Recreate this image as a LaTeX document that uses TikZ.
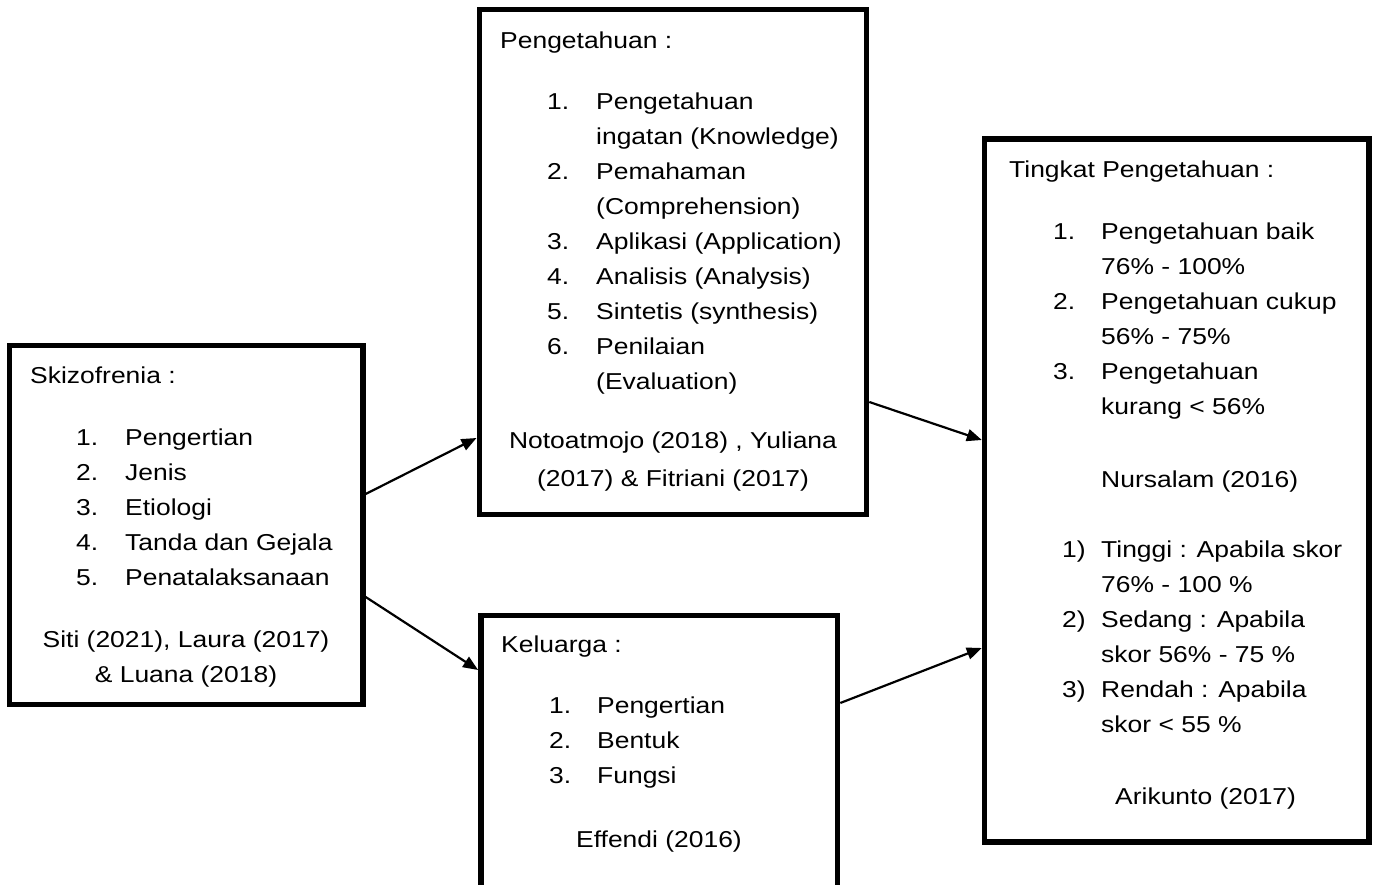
\documentclass[tikz,border=0pt]{standalone}
\usepackage{fontspec}
\setmainfont{Liberation Sans}[FakeStretch=1.15]
\usetikzlibrary{arrows.meta}

\begin{document}
\begin{tikzpicture}[x=1pt,y=-1pt,
    kotak/.style={rectangle,draw,line width=5.5pt,inner sep=0pt},
    teks/.style={inner sep=0pt,font=\fontsize{23}{35}\selectfont},
    panah/.style={-{Triangle[length=15pt,width=12pt]},line width=2.2pt}]
    \useasboundingbox (0,0) rectangle (1379,885);
    \clip (0,0) rectangle (1379,885);

    % kotak-kotak
    \node[kotak, minimum width=353.5pt, minimum height=358.8pt] (skz) at (186.2,525.1) {};
    \node[kotak, minimum width=387.3pt, minimum height=505pt] (ptn) at (672.9,262) {};
    \node[kotak, minimum width=356.7pt, minimum height=289.5pt] (klg) at (659.2,760.3) {};
    \node[kotak, minimum width=384.5pt, minimum height=703pt] (tkt) at (1176.8,490.5) {};

    % Skizofrenia
    \node[teks, anchor=base west] (skz-judul) at (30,383) {Skizofrenia :};
    \node[teks, anchor=base west] (skz-isi) at (76,445) {\begin{tabular}[t]{@{}p{49pt}@{}l@{}}
        1. & Pengertian\\
        2. & Jenis\\
        3. & Etiologi\\
        4. & Tanda dan Gejala\\
        5. & Penatalaksanaan
    \end{tabular}};
    \node[teks, anchor=base] (skz-sumber) at (186,647) {\begin{tabular}[t]{@{}c@{}}
        Siti (2021), Laura (2017)\\
        \& Luana (2018)
    \end{tabular}};

    % Pengetahuan
    \node[teks, anchor=base west] (ptn-judul) at (500,48.5) {Pengetahuan :};
    \node[teks, anchor=base west, font=\fontsize{23}{35}\selectfont] (ptn-isi) at (547,109.5) {\begin{tabular}[t]{@{}p{49pt}@{}l@{}}
        1. & Pengetahuan\\
           & ingatan (Knowledge)\\
        2. & Pemahaman\\
           & (Comprehension)\\
        3. & Aplikasi (Application)\\
        4. & Analisis (Analysis)\\
        5. & Sintetis (synthesis)\\
        6. & Penilaian\\
           & (Evaluation)
    \end{tabular}};
    \node[teks, anchor=base, font=\fontsize{23}{38}\selectfont] (ptn-sumber) at (673,448.5) {\begin{tabular}[t]{@{}c@{}}
        Notoatmojo (2018) , Yuliana\\
        (2017) \& Fitriani (2017)
    \end{tabular}};

    % Keluarga
    \node[teks, anchor=base west] (klg-judul) at (501,652) {Keluarga :};
    \node[teks, anchor=base west] (klg-isi) at (549,713) {\begin{tabular}[t]{@{}p{48pt}@{}l@{}}
        1. & Pengertian\\
        2. & Bentuk\\
        3. & Fungsi
    \end{tabular}};
    \node[teks, anchor=base] (klg-sumber) at (659,847) {Effendi (2016)};

    % Tingkat Pengetahuan
    \node[teks, anchor=base west] (tkt-judul) at (1009,178) {Tingkat Pengetahuan :};
    \node[teks, anchor=base west] (tkt-isi) at (1053,240) {\begin{tabular}[t]{@{}p{48pt}@{}l@{}}
        1. & Pengetahuan baik\\
           & 76\% - 100\%\\
        2. & Pengetahuan cukup\\
           & 56\% - 75\%\\
        3. & Pengetahuan\\
           & kurang < 56\%
    \end{tabular}};
    \node[teks, anchor=base west] (tkt-sumber1) at (1101,487) {Nursalam (2016)};
    \node[teks, anchor=base west] (tkt-skor) at (1062,557) {\begin{tabular}[t]{@{}p{39pt}@{}l@{}}
        1) & Tinggi : Apabila skor\\
           & 76\% - 100 \%\\
        2) & Sedang : Apabila\\
           & skor 56\% - 75 \%\\
        3) & Rendah : Apabila\\
           & skor < 55 \%
    \end{tabular}};
    \node[teks, anchor=base west] (tkt-sumber2) at (1115,804) {Arikunto (2017)};

    % panah
    \draw[panah] ([yshift=31.1pt]skz.east) -- ([yshift=-176pt]ptn.west);
    \draw[panah] ([yshift=-71.9pt]skz.east) -- ([yshift=90.3pt]klg.west);
    \draw[panah] ([yshift=-140pt]ptn.east) -- ([yshift=50.5pt]tkt.west);
    \draw[panah] ([yshift=57.3pt]klg.east) -- ([yshift=-157.5pt]tkt.west);
\end{tikzpicture}
\end{document}
